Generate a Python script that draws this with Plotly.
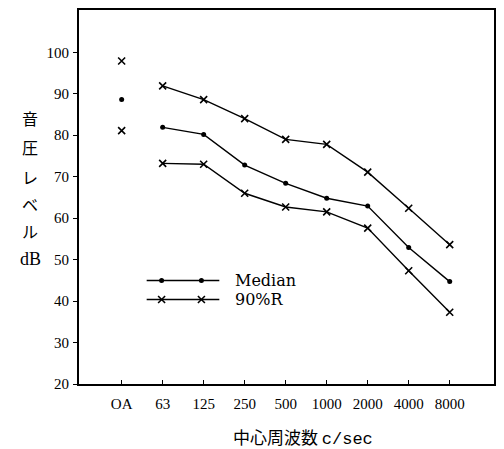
import plotly.graph_objects as go

categories = ["OA", "63", "125", "250", "500", "1000", "2000", "4000", "8000"]
bands = ["63", "125", "250", "500", "1000", "2000", "4000", "8000"]

oa_median = 88.6
oa_upper = 97.9
oa_lower = 81.1

median = [81.9, 80.2, 72.8, 68.4, 64.8, 62.9, 52.9, 44.7]
upper90 = [91.9, 88.6, 84.0, 79.0, 77.8, 71.1, 62.4, 53.6]
lower90 = [73.2, 73.0, 66.0, 62.7, 61.5, 57.6, 47.3, 37.3]

y_ticks = [20, 30, 40, 50, 60, 70, 80, 90, 100]
legend_labels = ["Median", "90%R"]
y_title_chars = ["音", "圧", "レ", "ベ", "ル", "dB"]
x_title_cjk = "中心周波数"
x_title_unit = "c/sec"

W, H = 504, 449
ML, MR, MT, MB = 79, 8, 8, 65
PW, PH = W - ML - MR, H - MT - MB


def px(xp):
    return (xp - ML) / PW


def py(yp):
    return (H - MB - yp) / PH


fig = go.Figure()

line_style = dict(color="black", width=1.4)
dot = dict(symbol="circle", size=5, color="black")
cross = dict(symbol="x-thin", size=7, line=dict(color="black", width=1.6))

fig.add_trace(go.Scatter(x=bands, y=upper90, mode="lines+markers", line=line_style, marker=cross))
fig.add_trace(go.Scatter(x=bands, y=median, mode="lines+markers", line=line_style, marker=dot))
fig.add_trace(go.Scatter(x=bands, y=lower90, mode="lines+markers", line=line_style, marker=cross))
fig.add_trace(go.Scatter(x=["OA", "OA"], y=[oa_upper, oa_lower], mode="markers", marker=cross))
fig.add_trace(go.Scatter(x=["OA"], y=[oa_median], mode="markers", marker=dot))

# custom legend drawn on an overlay axis (0..1 across the plot area)
leg_y = [py(280), py(299)]
leg_markers = [dot, cross]
for lab, yy, mk in zip(legend_labels, leg_y, leg_markers):
    fig.add_trace(go.Scatter(x=[px(147), px(220)], y=[yy, yy], mode="lines", line=line_style,
                             xaxis="x2", yaxis="y2"))
    fig.add_trace(go.Scatter(x=[px(162), px(202)], y=[yy, yy], mode="markers", marker=mk,
                             xaxis="x2", yaxis="y2"))
    fig.add_annotation(x=px(234), y=yy, xref="x2", yref="y2", text=lab,
                       showarrow=False, xanchor="left", yanchor="middle",
                       font=dict(family="DejaVu Serif", size=16, color="black"))

tick_font = dict(family="Liberation Serif", size=15, color="black")

fig.update_layout(
    width=W, height=H,
    margin=dict(l=ML, r=MR, t=MT, b=MB),
    paper_bgcolor="white", plot_bgcolor="white",
    showlegend=False,
    xaxis=dict(type="category", categoryorder="array", categoryarray=categories,
               range=[-1.04, 9.08], showgrid=False, zeroline=False,
               showline=True, linecolor="black", linewidth=2, mirror=True,
               ticks="inside", ticklen=4, tickwidth=1.2, tickcolor="black",
               tickfont=tick_font, ticklabelstandoff=5),
    yaxis=dict(range=[20, 110.2], tickvals=y_ticks, showgrid=False, zeroline=False,
               showline=True, linecolor="black", linewidth=2, mirror=True,
               ticks="outside", ticklen=4, tickwidth=1.2, tickcolor="black",
               tickfont=tick_font, ticklabelstandoff=1),
    xaxis2=dict(overlaying="x", range=[0, 1], visible=False),
    yaxis2=dict(overlaying="y", range=[0, 1], visible=False),
)

# vertical y-axis title
char_y = [117, 146, 176, 203, 230, 258]
for ch, yp in zip(y_title_chars, char_y):
    fam = "Liberation Serif" if ch == "dB" else "Noto Sans CJK JP"
    size = 18 if ch == "dB" else 16
    fig.add_annotation(x=px(30), y=py(yp), xref="paper", yref="paper", text=ch,
                       showarrow=False, xanchor="center", yanchor="middle",
                       font=dict(family=fam, size=size, color="black"))

# x-axis title
fig.add_annotation(
    x=px(304), y=py(437), xref="paper", yref="paper",
    text=(x_title_cjk + " <span style='font-family:Liberation Mono'>" + x_title_unit + "</span>"),
    showarrow=False, xanchor="center", yanchor="middle",
    font=dict(family="Noto Sans CJK JP", size=17, color="black"))

fig.write_html("out.html")
